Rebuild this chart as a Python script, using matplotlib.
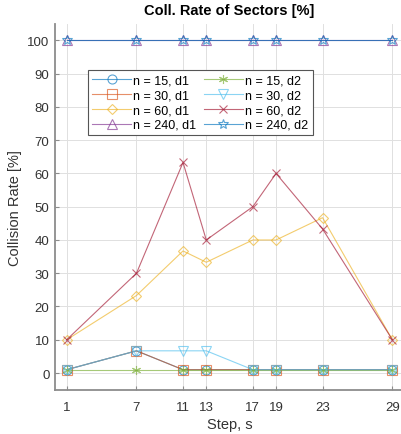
import matplotlib
matplotlib.use('Agg')
import matplotlib.pyplot as plt

plt.rcParams['font.family'] = ['Liberation Sans', 'DejaVu Sans']

# 시뮬레이션 스텝
steps = [1, 7, 11, 13, 17, 19, 23, 29]

# 충돌률 [%]
n15_d1 = [1, 6.67, 1, 1, 1, 1, 1, 1]
n30_d1 = [1, 6.67, 1, 1, 1, 1, 1, 1]
n60_d1 = [10, 23.3, 36.7, 33.3, 40, 40, 46.7, 10]
n240_d1 = [100, 100, 100, 100, 100, 100, 100, 100]
n15_d2 = [1, 1, 1, 1, 1, 1, 1, 1]
n30_d2 = [1, 6.67, 6.67, 6.67, 1, 1, 1, 1]
n60_d2 = [10, 30, 63.3, 40, 50, 60, 43.3, 10]
n240_d2 = [100, 100, 100, 100, 100, 100, 100, 100]

labels = ['n = 15, d1', 'n = 30, d1', 'n = 60, d1', 'n = 240, d1',
          'n = 15, d2', 'n = 30, d2', 'n = 60, d2', 'n = 240, d2']
series = [n15_d1, n30_d1, n60_d1, n240_d1, n15_d2, n30_d2, n60_d2, n240_d2]

# MATLAB 기본 색상 순서
colors = ['#0072bd', '#d95319', '#edb120', '#7e2f8e',
          '#77ac30', '#4dbeee', '#a2142f', '#0072bd']
markers = ['o', 's', 'D', '^', (6, 2, 0), 'v', 'x', '*']
sizes = [6.5, 6.5, 5.5, 7, 6.5, 7, 6, 7.5]

fig = plt.figure(figsize=(4.02, 4.35), dpi=100)
ax = fig.add_axes([0.137, 0.102, 0.868, 0.841])

for ys, lab, c, m, ms in zip(series, labels, colors, markers, sizes):
    ax.plot(steps, ys, color=c, marker=m, markersize=ms, markerfacecolor='none',
            markeredgecolor=c, markeredgewidth=0.8, linewidth=0.8, alpha=0.65,
            label=lab)

ax.set_xlim(0, 30)
ax.set_ylim(-5, 105)
ax.set_xticks(steps)
ax.set_yticks(range(0, 101, 10))
ax.grid(True, color='#e0e0e0', linewidth=0.7)
ax.set_axisbelow(True)

for s in ['top', 'right']:
    ax.spines[s].set_visible(False)
for s in ['left', 'bottom']:
    ax.spines[s].set_color('#8c8c8c')
    ax.spines[s].set_linewidth(1.3)
ax.tick_params(direction='in', length=3, width=0.8, color='#8c8c8c',
               labelsize=9.5, labelcolor='#333333')
ax.tick_params(axis='x', pad=8)
ax.tick_params(axis='y', pad=4)

ax.set_title('Coll. Rate of Sectors [%]', fontsize=10.5, fontweight='bold', pad=7)
ax.set_xlabel('Step, s', fontsize=10.5, color='#333333', labelpad=3)
ax.set_ylabel('Collision Rate [%]', fontsize=10.5, color='#333333', labelpad=4)

leg = ax.legend(loc='upper left', bbox_to_anchor=(0.094, 0.873), borderaxespad=0,
                ncol=2, fontsize=9, fancybox=False, framealpha=1,
                edgecolor='#555555', handlelength=3.1, labelspacing=0.22,
                columnspacing=0.6, handletextpad=0.2, borderpad=0.35)
leg.get_frame().set_linewidth(0.8)

fig.savefig('out.png', dpi=100)
